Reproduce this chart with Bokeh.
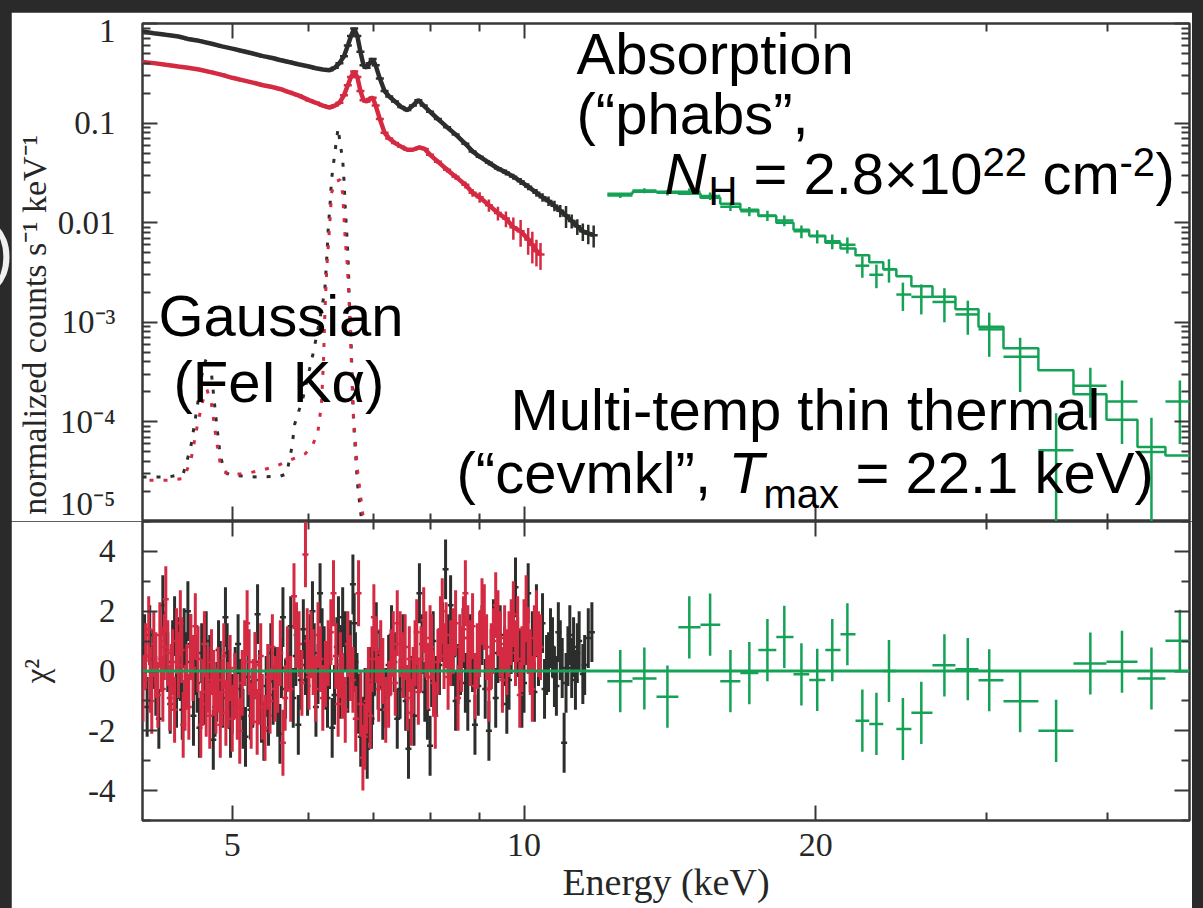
import math
from bokeh.plotting import figure
from bokeh.models import (LogAxis, LinearAxis, FixedTicker, CustomJSTickFormatter,
                          Label, Span, Range1d, Spacer, Div)
from bokeh.layouts import column, row
from bokeh.embed import file_html
from bokeh.resources import INLINE

# ---------------- data ----------------
x_ticks = [5, 10, 20]
x_tick_labels = ["5", "10", "20"]
x_minor = [6, 7, 8, 9, 30, 40]

y_top_ticks = [1e-5, 1e-4, 1e-3, 1e-2, 1e-1, 1]
y_top_labels = ["10\u207b\u2075", "10\u207b\u2074", "10\u207b\u00b3", "0.01", "0.1", "1"]
y_bot_ticks = [-4, -2, 0, 2, 4]
y_bot_labels = ["-4", "-2", "0", "2", "4"]

black_E = [4.04, 4.15, 4.27, 4.4, 4.5, 4.62, 4.75, 4.88, 5.0, 5.12,
           5.25, 5.38, 5.5, 5.6, 5.72, 5.85, 6.0, 6.1, 6.2, 6.3,
           6.38, 6.45, 6.52, 6.58, 6.63, 6.68, 6.73, 6.78, 6.83, 6.88,
           6.93, 6.98, 7.03, 7.1, 7.18, 7.26, 7.36, 7.47, 7.58, 7.68,
           7.78, 7.88, 8.0, 8.15, 8.33, 8.5, 8.7, 8.85, 9.0, 9.2,
           9.4, 9.58, 9.75, 9.92, 10.1, 10.3, 10.45, 10.6, 10.75, 10.9,
           11.05, 11.2, 11.35, 11.5, 11.65, 11.8]
black_flux = [0.83, 0.80, 0.77, 0.74, 0.70, 0.67, 0.63, 0.59, 0.56, 0.53,
              0.50, 0.47, 0.45, 0.43, 0.41, 0.39, 0.37, 0.355, 0.345, 0.34,
              0.36, 0.40, 0.47, 0.60, 0.75, 0.89, 0.75, 0.52, 0.38, 0.36,
              0.40, 0.44, 0.38, 0.28, 0.21, 0.185, 0.165, 0.145, 0.135, 0.15,
              0.17, 0.15, 0.13, 0.11, 0.091, 0.077, 0.062, 0.052, 0.046, 0.040,
              0.035, 0.032, 0.029, 0.026, 0.023, 0.020, 0.018, 0.0165, 0.0148, 0.0132,
              0.0118, 0.0104, 0.0092, 0.0082, 0.0078, 0.0075]
black_rel_err = [0.02, 0.02, 0.02, 0.02, 0.02, 0.02, 0.02, 0.02, 0.02, 0.02,
                 0.02, 0.02, 0.02, 0.02, 0.02, 0.02, 0.02, 0.02, 0.02, 0.02,
                 0.02, 0.02, 0.02, 0.02, 0.02, 0.02, 0.02, 0.02, 0.02, 0.02,
                 0.02, 0.02, 0.02, 0.02, 0.03, 0.03, 0.03, 0.03, 0.03, 0.03,
                 0.03, 0.03, 0.03, 0.04, 0.04, 0.04, 0.05, 0.05, 0.05, 0.06,
                 0.06, 0.07, 0.07, 0.08, 0.08, 0.09, 0.10, 0.11, 0.12, 0.14,
                 0.25, 0.16, 0.18, 0.20, 0.22, 0.25]

red_E = [4.04, 4.15, 4.27, 4.4, 4.5, 4.62, 4.75, 4.88, 5.0, 5.12,
         5.25, 5.38, 5.5, 5.6, 5.72, 5.85, 6.0, 6.1, 6.2, 6.3,
         6.38, 6.45, 6.52, 6.58, 6.63, 6.68, 6.73, 6.78, 6.83, 6.88,
         6.93, 6.98, 7.03, 7.1, 7.18, 7.26, 7.36, 7.47, 7.58, 7.68,
         7.8, 7.9, 8.0, 8.15, 8.33, 8.5, 8.7, 8.85, 9.0, 9.2,
         9.4, 9.58, 9.75, 9.92, 10.1, 10.2, 10.3, 10.4]
red_flux = [0.41, 0.40, 0.385, 0.37, 0.36, 0.345, 0.325, 0.305, 0.285, 0.27,
            0.255, 0.24, 0.23, 0.22, 0.205, 0.19, 0.17, 0.16, 0.15, 0.143,
            0.15, 0.16, 0.19, 0.24, 0.29, 0.33, 0.29, 0.21, 0.17, 0.165,
            0.175, 0.18, 0.15, 0.11, 0.08, 0.07, 0.063, 0.058, 0.054, 0.054,
            0.057, 0.055, 0.048, 0.041, 0.034, 0.029, 0.024, 0.020, 0.018, 0.015,
            0.0125, 0.011, 0.009, 0.0082, 0.0068, 0.006, 0.0052, 0.0048]
red_rel_err = [0.02, 0.02, 0.02, 0.02, 0.02, 0.02, 0.02, 0.02, 0.02, 0.02,
               0.02, 0.02, 0.02, 0.02, 0.02, 0.02, 0.02, 0.02, 0.02, 0.02,
               0.02, 0.02, 0.02, 0.02, 0.02, 0.02, 0.02, 0.02, 0.02, 0.02,
               0.03, 0.03, 0.03, 0.03, 0.03, 0.03, 0.03, 0.03, 0.03, 0.03,
               0.04, 0.04, 0.05, 0.05, 0.06, 0.07, 0.08, 0.09, 0.12, 0.14,
               0.16, 0.18, 0.25, 0.30, 0.30, 0.35, 0.30, 0.30]

# dotted model components (Gaussian lines)
black_dot_E = [4.04, 4.3, 4.45, 4.53, 4.6, 4.66, 4.71, 4.76, 4.81, 4.86,
               4.92, 5.0, 5.3, 5.6, 5.69, 5.76, 5.8, 5.92, 6.06, 6.16,
               6.23, 6.26, 6.28, 6.31, 6.33, 6.38, 6.42, 6.43, 6.46, 6.50,
               6.52, 6.54, 6.57, 6.59, 6.60, 6.62, 6.65, 6.67, 6.73, 6.78, 6.82]
black_dot = [2.8e-5, 2.8e-5, 3.0e-5, 5.5e-5, 1.4e-4, 3.3e-4, 4.6e-4, 3.0e-4, 1.1e-4, 4.5e-5,
             3.1e-5, 2.9e-5, 2.8e-5, 2.85e-5, 3.0e-5, 5.5e-5, 9.5e-5, 1.8e-4, 4.9e-4, 1.1e-3,
             2.1e-3, 4.5e-3, 8.4e-3, 1.6e-2, 2.7e-2, 5.0e-2, 8.0e-2, 8.9e-2, 6.3e-2, 4.3e-2,
             2.7e-2, 1.4e-2, 6.6e-3, 3.5e-3, 1.9e-3, 1.0e-3, 2.6e-4, 1.0e-4, 2.5e-5, 1.3e-5, 8e-6]
red_dot_E = [4.04, 4.3, 4.45, 4.53, 4.6, 4.66, 4.71, 4.76, 4.81, 4.86,
             4.94, 5.1, 5.22, 5.38, 5.55, 5.76, 5.95, 6.06, 6.13, 6.18,
             6.21, 6.23, 6.26, 6.28, 6.31, 6.33, 6.38, 6.46, 6.50, 6.52,
             6.54, 6.57, 6.59, 6.62, 6.66, 6.73, 6.81, 6.85]
red_dot = [2.6e-5, 2.6e-5, 2.7e-5, 4.0e-5, 9.0e-5, 1.6e-4, 2.1e-4, 1.5e-4, 7.0e-5, 3.8e-5,
           3.0e-5, 3.0e-5, 3.1e-5, 3.3e-5, 3.6e-5, 4.2e-5, 4.8e-5, 6.0e-5, 8.1e-5, 1.5e-4,
           4.0e-4, 1.2e-3, 3.6e-3, 5.6e-3, 1.14e-2, 1.97e-2, 2.56e-2, 2.7e-2, 1.97e-2, 1.14e-2,
           6.6e-3, 3.9e-3, 2.2e-3, 8.0e-4, 1.4e-4, 3.4e-5, 1.3e-5, 8e-6]

# green (hard X-ray) spectrum
green_edges = [12.19, 12.94, 13.70, 14.43, 15.21, 15.94, 16.72, 17.45, 18.21, 18.97,
               19.69, 20.46, 21.21, 21.98, 22.71, 23.48, 24.22, 25.10, 26.39, 27.87,
               29.44, 31.24, 33.94, 36.89, 39.90, 42.95, 45.90, 49.06]
green_E = [12.57, 13.31, 14.06, 14.81, 15.56, 16.33, 17.08, 17.83, 18.56, 19.33,
           20.07, 20.8, 21.56, 22.34, 23.1, 23.8, 24.6, 25.7, 27.15, 28.7,
           30.2, 32.5, 35.4, 38.4, 41.4, 44.4, 47.5]
green_flux = [0.0188, 0.021, 0.020, 0.0205, 0.0185, 0.0145, 0.013, 0.0118, 0.0105, 0.0082,
              0.0073, 0.0065, 0.0060, 0.0037, 0.0030, 0.0034, 0.0019, 0.0018, 0.0016, 0.0012,
              0.00085, 0.00045, 0.000052, 0.00023, 0.00016, 0.00005, 0.00016]
green_err = [0.0011, 0.0012, 0.0013, 0.0015, 0.0016, 0.0014, 0.0014, 0.0014, 0.0013, 0.0012,
             0.0011, 0.0011, 0.0011, 0.0009, 0.0008, 0.0009, 0.0006, 0.0006, 0.0006, 0.00045,
             0.0004, 0.00025, 0.00007, 0.00012, 0.0001, 0.00006, 0.0001]
green_model = [0.0195, 0.0205, 0.0205, 0.0195, 0.0178, 0.0155, 0.0135, 0.0117, 0.0100, 0.0085,
               0.0074, 0.0063, 0.0055, 0.0047, 0.0040, 0.0034, 0.0029, 0.0023, 0.0018, 0.00135,
               0.0009, 0.00055, 0.00033, 0.00019, 0.000105, 0.000056, 0.000046]

# residuals (chi)
black_res_E = [4.04, 4.06, 4.085, 4.11, 4.14, 4.17, 4.2, 4.24, 4.265, 4.29,
               4.315, 4.34, 4.36, 4.38, 4.4, 4.42, 4.44, 4.46, 4.48, 4.5,
               4.53, 4.56, 4.58, 4.6, 4.625, 4.65, 4.675, 4.7, 4.74, 4.78,
               4.8, 4.82, 4.84, 4.86, 4.89, 4.92, 4.94, 4.96, 4.98, 5.0,
               5.035, 5.07, 5.1, 5.13, 5.16, 5.19, 5.22, 5.25, 5.28, 5.31,
               5.335, 5.36, 5.39, 5.42, 5.45, 5.48, 5.51, 5.54, 5.57, 5.6,
               5.62, 5.64, 5.675, 5.71, 5.745, 5.78, 5.815, 5.85, 5.885, 5.92,
               5.95, 5.98, 6.015, 6.05, 6.075, 6.1, 6.13, 6.16, 6.19, 6.22,
               6.245, 6.27, 6.3, 6.34, 6.375, 6.41, 6.435, 6.46, 6.48, 6.5,
               6.54, 6.58, 6.62, 6.66, 6.68, 6.7, 6.725, 6.75, 6.785, 6.82,
               6.855, 6.89, 6.915, 6.94, 6.96, 6.98, 7.01, 7.04, 7.07, 7.1,
               7.15, 7.2, 7.25, 7.3, 7.35, 7.4, 7.45, 7.5, 7.55, 7.6,
               7.65, 7.7, 7.75, 7.8, 7.85, 7.9, 7.95, 8.0, 8.03, 8.06,
               8.12, 8.18, 8.24, 8.3, 8.35, 8.4, 8.45, 8.5, 8.55, 8.6,
               8.65, 8.7, 8.75, 8.8, 8.85, 8.9, 8.97, 9.05, 9.12, 9.2,
               9.25, 9.3, 9.35, 9.4, 9.45, 9.5, 9.55, 9.6, 9.65, 9.7,
               9.75, 9.8, 9.85, 9.9, 9.95, 10.0, 10.05, 10.1, 10.15, 10.2,
               10.25, 10.3, 10.35, 10.4, 10.45, 10.5, 10.55, 10.6, 10.65, 10.7,
               10.75, 10.8, 10.85, 10.9, 10.95, 11.0, 11.05, 11.1, 11.15, 11.2,
               11.25, 11.3, 11.35, 11.4, 11.5, 11.55, 11.65, 11.75]
black_res = [-0.3, 0.9, -1.2, 1.2, 0.4, -0.5, -1.6, 2.2, 1.0, 0.3,
             -1.1, 0.7, 1.5, -0.9, 0.8, 0.0, -1.3, 1.1, 0.3, 2.0,
             0.9, -1.5, 0.2, -0.4, -1.9, 0.6, -0.8, 1.0, 0.2, -2.3,
             -1.2, -0.7, 0.7, 0.0, -0.9, 1.8, 0.6, -0.3, -1.9, -1.1,
             -0.2, 0.9, -0.6, -1.6, -2.2, -0.2, -1.3, -0.9, 0.3, 1.9,
             -0.3, -1.4, -2.0, -0.5, -1.5, 0.6, -0.8, -0.2, -1.2, -2.1,
             0.1, 1.8, -0.6, 0.4, 1.5, -0.9, 0.5, -1.8, -0.3, 1.4,
             0.2, -0.5, 0.9, 2.0, 0.6, -1.2, -0.1, 2.6, 1.1, 0.5,
             -0.3, -0.9, 0.4, -1.9, -0.8, 0.8, 1.5, -0.6, 0.5, 1.8,
             1.0, -0.4, 0.7, 2.9, 1.6, 0.3, -0.4, -1.1, -2.2, -1.9,
             -0.9, -2.6, -1.4, -0.2, -1.6, -0.8, 0.2, 1.3, -0.3, 0.4,
             -1.3, -0.9, 0.2, 1.2, 0.3, -1.6, -0.6, 0.9, -1.0, -2.6,
             -0.5, -1.5, 0.4, 2.6, 0.9, -0.7, -1.3, -2.5, -0.2, 1.0,
             -0.5, 0.2, 1.3, 3.4, 0.9, 2.2, 0.5, -1.0, -0.1, 0.2,
             1.1, -0.4, -1.0, 0.9, 0.3, -1.8, -0.5, 1.2, -0.6, -2.0,
             0.4, 1.4, -0.9, 0.6, 1.2, -0.2, 0.5, -1.1, -0.3, 0.9,
             1.3, 2.8, 0.8, 0.4, -0.9, -0.4, 1.2, 2.6, 0.3, 1.0,
             -0.7, 1.9, 0.5, 0.8, 1.6, -0.6, 0.2, 0.3, 1.1, 0.8,
             -0.2, -0.5, 1.3, 0.7, 0.1, -2.4, -0.4, 0.5, 1.2, 0.1,
             0.8, -0.3, 0.6, 1.0, -0.1, 0.2, 1.1, 1.3]
black_res_sigma = 1.0

red_res_E = [4.045, 4.07, 4.1, 4.115, 4.13, 4.15, 4.17, 4.19, 4.21, 4.225,
             4.24, 4.255, 4.27, 4.29, 4.31, 4.325, 4.34, 4.36, 4.38, 4.4,
             4.42, 4.435, 4.45, 4.47, 4.49, 4.51, 4.53, 4.555, 4.58, 4.61,
             4.64, 4.66, 4.68, 4.7, 4.72, 4.74, 4.76, 4.785, 4.81, 4.835,
             4.86, 4.88, 4.9, 4.925, 4.95, 4.975, 5.0, 5.03, 5.06, 5.09,
             5.12, 5.15, 5.18, 5.205, 5.23, 5.255, 5.28, 5.305, 5.33, 5.35,
             5.37, 5.405, 5.44, 5.47, 5.5, 5.535, 5.57, 5.605, 5.64, 5.67,
             5.7, 5.745, 5.79, 5.825, 5.86, 5.9, 5.95, 5.975, 6.0, 6.03,
             6.06, 6.095, 6.13, 6.165, 6.2, 6.24, 6.28, 6.32, 6.36, 6.395,
             6.43, 6.465, 6.5, 6.54, 6.58, 6.62, 6.66, 6.705, 6.75, 6.785,
             6.82, 6.85, 6.88, 6.91, 6.94, 6.97, 7.0, 7.04, 7.08, 7.115,
             7.15, 7.2, 7.25, 7.29, 7.33, 7.365, 7.4, 7.45, 7.5, 7.54,
             7.58, 7.615, 7.65, 7.685, 7.72, 7.75, 7.78, 7.83, 7.88, 7.92,
             7.96, 8.0, 8.03, 8.065, 8.1, 8.15, 8.2, 8.235, 8.27, 8.31,
             8.35, 8.4, 8.45, 8.5, 8.55, 8.585, 8.62, 8.66, 8.7, 8.75,
             8.8, 8.85, 8.9, 8.95, 9.0, 9.05, 9.1, 9.15, 9.2, 9.25,
             9.3, 9.35, 9.4, 9.45, 9.5, 9.55, 9.6, 9.65, 9.7, 9.75,
             9.8, 9.85, 9.9, 9.95, 10.0, 10.05, 10.1, 10.15, 10.2, 10.25,
             10.3, 10.35, 10.4]
red_res = [-0.6, 0.5, 1.4, -0.3, -1.0, 0.9, 0.2, -0.8, 1.2, 0.4,
           -0.6, 0.8, 2.4, 0.6, -0.9, -0.2, 0.3, -1.3, 1.0, 0.2,
           1.6, 0.7, -1.8, -0.9, -0.2, -1.2, 0.8, 0.1, 1.5, 0.4,
           -1.8, -0.7, 0.9, -1.1, -0.3, -1.5, 0.3, -0.4, -1.0, -0.3,
           -1.8, -0.7, 0.5, -1.4, -0.8, 0.1, -1.6, -0.5, -1.2, -2.0,
           -0.4, 0.6, 1.6, 0.3, -1.5, -0.7, 0.2, -1.7, -0.7, 0.5,
           -1.2, -1.9, -0.2, -1.0, 0.8, -0.6, -0.3, 0.6, -2.4, -0.9,
           0.4, -0.6, 2.5, 1.2, 0.9, -0.4, 3.9, 1.0, -0.2, 0.9,
           0.3, -0.6, 1.2, 0.4, -0.9, -0.1, 0.6, 1.3, 2.6, 0.5,
           -1.1, 0.2, -0.5, -1.3, 0.9, 0.1, -0.3, -1.6, 2.6, -1.1,
           -2.9, -2.2, -1.0, -0.3, -1.5, 0.4, 1.8, 0.7, -0.6, 0.6,
           0.0, -1.3, -0.8, 0.3, 0.9, -0.4, 1.6, 0.9, 0.2, 0.8,
           -0.9, 0.4, -1.4, -0.3, 0.6, 1.3, -0.7, 0.4, 1.7, 0.9,
           -0.2, 1.1, 0.8, -0.4, -1.5, 0.3, 1.4, 2.0, 0.5, 1.2,
           -0.2, 0.6, 1.0, 1.6, -0.9, 0.8, 0.4, 1.4, 2.6, 1.1,
           0.6, 1.5, -0.5, 0.5, 0.9, 2.0, 1.8, 0.8, -0.6, 0.5,
           1.0, 2.2, 1.6, 0.9, -0.3, 1.1, 0.3, 0.9, 1.3, 1.9,
           0.6, 1.4, -0.8, 0.4, 1.3, 2.1, 1.0, 0.3, -0.6, 1.1,
           1.6, 0.9, 0.8]
red_res_sigma = 1.1

green_res = [-0.34, -0.25, -0.86, 1.46, 1.55, -0.34, -0.07, 0.7, 1.14, -0.11,
             -0.3, 0.7, 1.23, -1.66, -1.77, 0.0, -1.94, -1.4, 0.19, 0.06,
             -0.31, -1.01, -2.0, 0.25, 0.31, -0.25, 1.01]
green_res_sigma = 1.04

# ---------------- style ----------------
BLACK = "#2c2e2c"
RED = "#d42a42"
GREEN = "#14a256"
FRAME = "#383838"
TXT = "#262626"
SERIF = "Liberation Serif"
SANS = "Liberation Sans"

X0, X1 = 4.04, 48.6
PAGE_FRAME_L, PAGE_FRAME_R = 142, 1189
PAGE_TOP_T, PAGE_TOP_B = 23, 521
BASELINE_FIX = 0.37   # Label "alphabetic" anchor correction, in em


def px2E(px):
    return X0 * (X1 / X0) ** ((px - PAGE_FRAME_L) / (PAGE_FRAME_R - PAGE_FRAME_L))


def py2v(py):
    return 10 ** (-5 * (py - PAGE_TOP_T) / (PAGE_TOP_B - PAGE_TOP_T))


def fmt(tvals, tlabels):
    return CustomJSTickFormatter(args=dict(tvals=tvals, tlabels=tlabels), code="""
        for (let i = 0; i < tvals.length; i++) {
            if (Math.abs(tvals[i] - tick) <= 1e-9 * Math.max(1, Math.abs(tick))) return tlabels[i];
        }
        return '';
    """)


def style_axis(ax, show_labels, size="33px"):
    ax.axis_line_color = None
    ax.major_tick_in = 15
    ax.major_tick_out = 0
    ax.minor_tick_in = 8
    ax.minor_tick_out = 0
    ax.major_tick_line_color = FRAME
    ax.minor_tick_line_color = FRAME
    ax.major_tick_line_width = 2
    ax.minor_tick_line_width = 2
    if show_labels:
        ax.major_label_text_font = SERIF
        ax.major_label_text_font_size = size
        ax.major_label_text_color = TXT
    else:
        ax.major_label_text_font_size = "0px"
        ax.major_label_standoff = 0
        ax.formatter = CustomJSTickFormatter(code="return '';")


y_top_minor = [k * 10.0 ** e for e in range(-5, 0) for k in range(2, 10)]

xr = Range1d(X0, X1)

# ---------------- top panel ----------------
top = figure(width=1181, height=509, x_axis_type="log", y_axis_type="log",
             x_range=xr, y_range=Range1d(1e-5, 1),
             output_backend="svg", toolbar_location=None,
             min_border_left=131, min_border_right=3, min_border_top=11, min_border_bottom=0,
             outline_line_color=FRAME, outline_line_width=2.5,
             background_fill_color="white", border_fill_color="white")
top.grid.visible = False

xa = top.xaxis[0]
xa.ticker = FixedTicker(ticks=x_ticks, minor_ticks=x_minor)
style_axis(xa, False)
ya = top.yaxis[0]
ya.ticker = FixedTicker(ticks=y_top_ticks, minor_ticks=y_top_minor)
ya.formatter = fmt(y_top_ticks, y_top_labels)
style_axis(ya, True, "33px")
ya.major_label_standoff = 27
# trailing blank space pushes the visible text down, as in the original
ya.axis_label = "normalized counts s\u207b\u00b9 keV\u207b\u00b9\u2003\u2003\u2003\u200a"
ya.axis_label_text_font = SERIF
ya.axis_label_text_font_size = "34px"
ya.axis_label_text_font_style = "normal"
ya.axis_label_text_color = TXT
ya.axis_label_standoff = 2

ax_above = LogAxis(ticker=FixedTicker(ticks=x_ticks, minor_ticks=x_minor))
style_axis(ax_above, False)
top.add_layout(ax_above, "above")
ax_right = LogAxis(ticker=FixedTicker(ticks=y_top_ticks, minor_ticks=y_top_minor))
style_axis(ax_right, False)
top.add_layout(ax_right, "right")

# dotted model components
top.line(black_dot_E, black_dot, line_color=BLACK, line_width=3, line_dash="4 10")
top.line(red_dot_E, red_dot, line_color=RED, line_width=3, line_dash="4 10", line_dash_offset=7)

# red spectrum
red_lo = [f * (1 - r) for f, r in zip(red_flux, red_rel_err)]
red_hi = [f * (1 + r) for f, r in zip(red_flux, red_rel_err)]
top.line(red_E, red_flux, line_color=RED, line_width=4.5)
top.segment(x0=red_E, y0=red_lo, x1=red_E, y1=red_hi, line_color=RED, line_width=2.5)
top.scatter(red_E, red_flux, marker="dash", size=8, line_color=RED, line_width=2.5)

# black spectrum
black_lo = [f * (1 - r) for f, r in zip(black_flux, black_rel_err)]
black_hi = [f * (1 + r) for f, r in zip(black_flux, black_rel_err)]
top.line(black_E, black_flux, line_color=BLACK, line_width=4.5)
top.segment(x0=black_E, y0=black_lo, x1=black_E, y1=black_hi, line_color=BLACK, line_width=2.5)
top.scatter(black_E, black_flux, marker="dash", size=8, line_color=BLACK, line_width=2.5)

# green spectrum: model histogram + data crosses
top.step(x=green_edges, y=green_model + [green_model[-1]], mode="after",
         line_color=GREEN, line_width=2.5)
g_lo = [max(f - e, 1e-7) for f, e in zip(green_flux, green_err)]
g_hi = [f + e for f, e in zip(green_flux, green_err)]
top.segment(x0=green_edges[:-1], y0=green_flux, x1=green_edges[1:], y1=green_flux,
            line_color=GREEN, line_width=2.5)
top.segment(x0=green_E, y0=g_lo, x1=green_E, y1=g_hi, line_color=GREEN, line_width=2.5)


def lab(text, px, py, size=58, style="normal"):
    top.add_layout(Label(x=px2E(px), y=py2v(py - BASELINE_FIX * size), text=text,
                         text_font=SANS, text_font_size=f"{size}px", text_font_style=style,
                         text_color="black", text_baseline="alphabetic", text_align="left"))


lab("Absorption", 576, 74)
lab("(\u201cphabs\u201d,", 576, 134)
lab("N", 664, 194, style="italic")
lab("H", 708, 205, size=40)
lab("= 2.8\u00d710", 753, 194)
lab("22", 982, 176, size=40)
lab("cm", 1042, 194)
lab("-2", 1119, 176, size=40)
lab(")", 1155, 194)

lab("Gaussian", 158, 336)
lab("(FeI K\u03b1)", 173, 402)

lab("Multi-temp thin thermal", 510, 430)
lab("(\u201ccevmkl\u201d,", 456, 493)
lab("T", 728, 493, style="italic")
lab("max", 763, 508, size=40)
lab("= 22.1 keV)", 855, 493)

# ---------------- bottom panel ----------------
bot = figure(width=1181, height=387, x_axis_type="log",
             x_range=xr, y_range=Range1d(-5, 5),
             output_backend="svg", toolbar_location=None,
             min_border_left=131, min_border_right=3, min_border_top=0, min_border_bottom=88,
             outline_line_color=FRAME, outline_line_width=2.5,
             background_fill_color="white", border_fill_color="white")
bot.grid.visible = False

bxa = bot.xaxis[0]
bxa.ticker = FixedTicker(ticks=x_ticks, minor_ticks=x_minor)
bxa.formatter = fmt(x_ticks, x_tick_labels)
style_axis(bxa, True, "34px")
bxa.major_label_standoff = 13
bxa.axis_label = "Energy (keV)"
bxa.axis_label_text_font = SERIF
bxa.axis_label_text_font_size = "38px"
bxa.axis_label_text_font_style = "normal"
bxa.axis_label_text_color = TXT
bxa.axis_label_standoff = 2

bya = bot.yaxis[0]
bya.ticker = FixedTicker(ticks=y_bot_ticks, minor_ticks=[-5, -3, -1, 1, 3, 5])
bya.formatter = fmt(y_bot_ticks, y_bot_labels)
style_axis(bya, True, "33px")
bya.major_label_standoff = 27
bya.axis_label = "\u03c7\u00b2"
bya.axis_label_text_font = SERIF
bya.axis_label_text_font_size = "33px"
bya.axis_label_text_font_style = "normal"
bya.axis_label_text_color = TXT
bya.axis_label_standoff = 30

b_above = LogAxis(ticker=FixedTicker(ticks=x_ticks, minor_ticks=x_minor))
style_axis(b_above, False)
bot.add_layout(b_above, "above")
b_right = LinearAxis(ticker=FixedTicker(ticks=y_bot_ticks, minor_ticks=[-5, -3, -1, 1, 3, 5]))
style_axis(b_right, False)
bot.add_layout(b_right, "right")

bot.segment(x0=black_res_E, y0=[r - black_res_sigma for r in black_res],
            x1=black_res_E, y1=[r + black_res_sigma for r in black_res],
            line_color=BLACK, line_width=3)
bot.scatter(black_res_E, black_res, marker="dash", size=6, line_color=BLACK, line_width=2.5)
bot.segment(x0=red_res_E, y0=[r - red_res_sigma for r in red_res],
            x1=red_res_E, y1=[r + red_res_sigma for r in red_res],
            line_color=RED, line_width=3)
bot.scatter(red_res_E, red_res, marker="dash", size=6, line_color=RED, line_width=2.5)

bot.segment(x0=green_edges[:-1], y0=green_res, x1=green_edges[1:], y1=green_res,
            line_color=GREEN, line_width=2.5)
bot.segment(x0=green_E, y0=[r - green_res_sigma for r in green_res],
            x1=green_E, y1=[r + green_res_sigma for r in green_res],
            line_color=GREEN, line_width=2.5)
bot.add_layout(Span(location=0, dimension="width", line_color=GREEN, line_width=3))

# ---------------- page ----------------
# the left dark strip shows the clipped tail of a slide text, ")"
edge = Div(text='<div style="margin-left:-9px; margin-top:205px; color:#f0f0f0; '
                'font-family:\'Liberation Sans\'; font-size:68px; line-height:1; '
                'white-space:nowrap;">)</div>',
           width=11, height=896, margin=(0, 0, 0, 0),
           styles={"overflow": "hidden", "padding": "0px"})

plots = column(top, bot)
page = column(Spacer(width=1203, height=12),
              row(edge, plots, Spacer(width=11, height=896)),
              styles={"background-color": "#2a2a2a"})

open("out.html", "w").write(file_html(page, INLINE, title="spectrum"))
